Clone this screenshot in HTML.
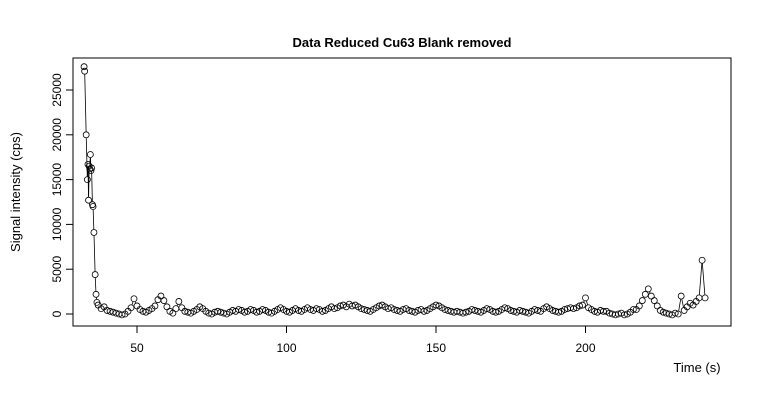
<!DOCTYPE html>
<html><head><meta charset="utf-8"><style>
body{margin:0;background:#fff;}
svg{display:block;font-family:"Liberation Sans",Arial,sans-serif;}
</style></head><body>
<svg id="chart" width="760" height="400" xmlns="http://www.w3.org/2000/svg">
<text x="402" y="47" text-anchor="middle" font-size="13" font-weight="bold">Data Reduced Cu63 Blank removed</text>
<rect x="73" y="58" width="658" height="268" fill="none" stroke="#000" stroke-width="1"/>
<text x="697" y="372" text-anchor="middle" font-size="13">Time (s)</text>
<text transform="translate(20,192) rotate(-90)" text-anchor="middle" font-size="13">Signal intensity (cps)</text>
<g id="axes"></g>
<g id="series"></g>
</svg>
<script>
const xTicks=[50,100,150,200];
const yTicks=[0,5000,10000,15000,20000,25000];
const spikeTimes=[32.3,32.5,33.0,33.4,33.6,33.8,34.0,34.2,34.4,34.6,34.8,35.1,35.3,35.6,36.0,36.3,36.6];
const spikeValues=[27600,27100,20000,15000,16700,12700,16500,16200,17800,16000,16300,12200,12000,9100,4400,2200,1300];
const baseStart=37;
const baseValues=[1000,600,800,400,300,200,100,0,-100,0,
300,700,1700,900,500,300,200,400,600,900,
1600,2000,1500,800,300,100,600,1400,700,300,
200,100,300,500,800,600,300,100,0,200,
300,200,100,0,200,400,300,500,400,200,
300,500,400,200,300,500,400,200,100,300,
500,700,500,300,200,400,600,400,300,500,
700,500,400,600,500,300,400,600,800,600,
700,900,1000,800,1100,900,1000,800,600,500,
400,300,500,700,900,1000,800,600,700,500,
400,300,500,600,400,300,200,400,500,300,
400,600,800,1000,900,700,500,400,300,200,
300,200,100,200,300,500,400,300,200,400,
600,500,300,200,300,500,700,600,400,300,
200,400,300,200,100,300,500,400,300,600,
800,600,400,300,200,300,500,600,700,600,
700,900,1000,1800,700,500,300,200,400,300,
300,100,0,-100,0,100,-100,0,200,500,
500,900,1500,2200,2800,2000,1500,900,400,200,
100,0,-100,100,0,2000,400,800,1200,1000,
1400,1800,6000,1800];
const NS="http://www.w3.org/2000/svg";
const xs=t=>137+(t-50)*2.99;
const ys=v=>314-v*0.00896;
const axes=document.getElementById('axes');
const ser=document.getElementById('series');
function mk(tag,attrs,parent){const e=document.createElementNS(NS,tag);for(const k in attrs)e.setAttribute(k,attrs[k]);parent.appendChild(e);return e;}
xTicks.forEach(t=>{
 const l=mk('line',{x1:xs(t),x2:xs(t),y1:326,y2:333,stroke:'#000'},axes);
 
 
 const tx=mk('text',{x:xs(t),y:352,'text-anchor':'middle','font-size':'12'},axes);
 
 
 tx.textContent=t;
});
mk('line',{x1:xs(50),x2:xs(200),y1:326,y2:326,stroke:'#000'},axes);
yTicks.forEach(v=>{
 const l=mk('line',{x1:66,x2:73,y1:ys(v),y2:ys(v),stroke:'#000'},axes);
 
 
 const tx=mk('text',{transform:`translate(61,${ys(v)}) rotate(-90)`,'text-anchor':'middle','font-size':'12'},axes);
 
 
 tx.textContent=v;
});
mk('line',{x1:73,x2:73,y1:ys(0),y2:ys(25000),stroke:'#000'},axes);
const pts=[];
spikeTimes.forEach((t,i)=>pts.push([t,spikeValues[i]]));
baseValues.forEach((v,i)=>pts.push([baseStart+i,v]));
for(let i=0;i<pts.length-1;i++){
 const x1=xs(pts[i][0]),y1=ys(pts[i][1]),x2=xs(pts[i+1][0]),y2=ys(pts[i+1][1]);
 const d=Math.hypot(x2-x1,y2-y1);
 if(d>7){const r=3.3/d;
  const s=mk('line',{x1:x1+(x2-x1)*r,y1:y1+(y2-y1)*r,x2:x2-(x2-x1)*r,y2:y2-(y2-y1)*r,stroke:'#000','stroke-width':0.8},ser);
  
  
 }
}
pts.forEach(p=>{
 const c=mk('circle',{cx:xs(p[0]),cy:ys(p[1]),r:3,fill:'none',stroke:'#000','stroke-width':0.8},ser);
 
 
});
</script>
</body></html>
